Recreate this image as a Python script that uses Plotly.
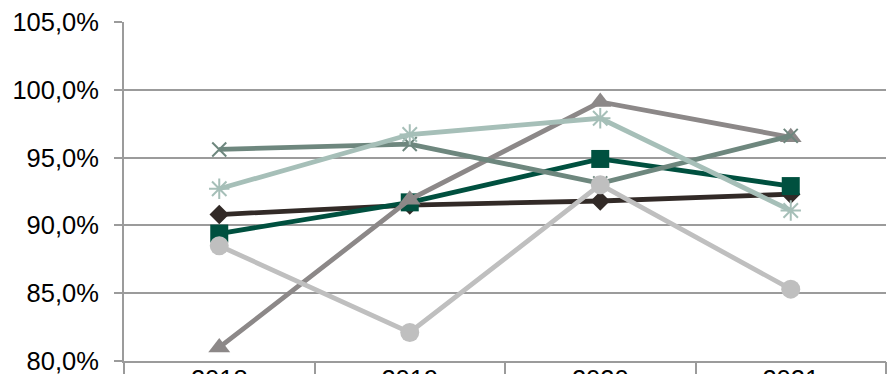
import plotly.graph_objects as go

years = ["2018", "2019", "2020", "2021"]
s_diamond = [90.8, 91.5, 91.8, 92.3]
s_square = [89.4, 91.7, 94.9, 92.9]
s_triangle = [81.0, 91.9, 99.1, 96.5]
s_x = [95.6, 96.0, 93.1, 96.6]
s_star = [92.7, 96.7, 97.9, 91.1]
s_circle = [88.5, 82.1, 93.0, 85.3]

y_ticks = [80, 85, 90, 95, 100, 105]
y_tick_labels = ["80,0%", "85,0%", "90,0%", "95,0%", "100,0%", "105,0%"]

FONT = "Liberation Sans, Arial, sans-serif"
GRID = "#9b9b9b"

series = [
    ("Serie 1", s_diamond, "#322a27", dict(symbol="diamond", size=15)),
    ("Serie 2", s_square, "#00503f", dict(symbol="square", size=18)),
    ("Serie 3", s_triangle, "#8c8888", dict(symbol="triangle-up", size=19)),
    ("Serie 4", s_x, "#6e877e", dict(symbol="x-thin", size=14, line=dict(width=2, color="#6e877e"))),
    ("Serie 5", s_star, "#a6bfb8", dict(symbol="asterisk", size=17, line=dict(width=2, color="#a6bfb8"))),
    ("Serie 6", s_circle, "#bfbfbf", dict(symbol="circle", size=19)),
]

fig = go.Figure()
for name, vals, col, mk in series:
    mk = dict(mk)
    mk.setdefault("color", col)
    fig.add_trace(go.Scatter(
        x=years, y=vals, name=name, mode="lines+markers",
        line=dict(color=col, width=4.8), marker=mk, showlegend=False,
        cliponaxis=False,
    ))

# invisible trace on overlay axis to provide category boundary ticks
fig.add_trace(go.Scatter(x=years, y=s_diamond, xaxis="x2", mode="none",
                         showlegend=False, hoverinfo="skip"))

fig.update_layout(
    width=888, height=374,
    margin=dict(l=124, r=2, t=22, b=13),
    paper_bgcolor="white", plot_bgcolor="white",
    font=dict(family=FONT, size=25.5, color="#000000"),
    xaxis=dict(
        type="category", range=[-0.5, 3.5], showgrid=False,
        showline=True, linecolor=GRID, linewidth=2,
        ticks="", tickfont=dict(family=FONT, size=25.5, color="#000"),
        ticklabelstandoff=-6, ticklabeloverflow="allow",
        automargin=False, zeroline=False,
    ),
    xaxis2=dict(
        type="category", range=[-0.5, 3.5], overlaying="x", side="bottom",
        showgrid=False, showline=False, showticklabels=False,
        ticks="outside", tickson="boundaries", ticklen=16, tickwidth=1.5,
        tickcolor=GRID, automargin=False, zeroline=False,
    ),
    yaxis=dict(
        range=[80, 105], tickvals=y_ticks, ticktext=y_tick_labels,
        showgrid=True, gridcolor=GRID, gridwidth=1.5,
        showline=True, linecolor=GRID, linewidth=2,
        ticks="outside", ticklen=8, tickwidth=1.5, tickcolor=GRID,
        ticklabelstandoff=10, ticklabeloverflow="allow",
        tickfont=dict(family=FONT, size=25.5, color="#000"),
        automargin=False, zeroline=False,
    ),
)

fig.write_html(
    "out.html",
    config={"displayModeBar": False},
    post_script="document.body.style.margin='0';document.body.style.padding='0';document.body.style.overflow='hidden';",
)
